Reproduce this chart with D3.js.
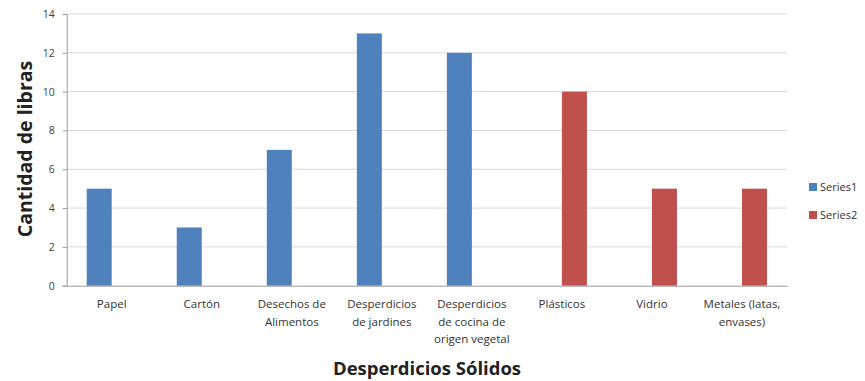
<!DOCTYPE html>
<html><head><meta charset="utf-8">
<script src="https://cdn.jsdelivr.net/npm/d3@7"></script>
<style>body{margin:0;background:#fff}svg{display:block}</style>
</head><body><svg id="c" width="865" height="381"></svg>
<script>
const categories = ["Papel","Cartón","Desechos de Alimentos","Desperdicios de jardines","Desperdicios de cocina de origen vegetal","Plásticos","Vidrio","Metales (latas, envases)"];
const categoryLines = [["Papel"],["Cartón"],["Desechos de","Alimentos"],["Desperdicios","de jardines"],["Desperdicios","de cocina de","origen vegetal"],["Plásticos"],["Vidrio"],["Metales (latas,","envases)"]];
const series1 = [5,3,7,13,12,null,null,null];
const series2 = [null,null,null,null,null,10,5,5];
const seriesNames = ["Series1","Series2"];
const colors = ["#4f81bd","#c0504d"];
const yTicks = [0,2,4,6,8,10,12,14];

const svg = d3.select("#c");
const m = {l:66.7, r:787, t:14, b:285.7};
const x = d3.scaleBand().domain(categories).range([m.l, m.r]).paddingInner(0).paddingOuter(0);
const sub = d3.scaleBand().domain(seriesNames).range([x.bandwidth()/2-25, x.bandwidth()/2+25]);
const y = d3.scaleLinear().domain([0,14]).range([m.b, m.t]);
const font = "'Open Sans', 'Noto Sans', sans-serif";

// gridlines
svg.append("g").selectAll("line").data(yTicks.filter(d=>d>0)).join("line")
  .attr("x1", m.l).attr("x2", m.r).attr("y1", d=>y(d)).attr("y2", d=>y(d))
  .attr("stroke", "#d9d9d9").attr("stroke-width", 1);

// y axis
const ya = svg.append("g").attr("transform", `translate(${m.l},0)`)
  .call(d3.axisLeft(y).tickValues(yTicks).tickSize(4).tickPadding(8));
ya.select(".domain").attr("stroke", "#9a9a9a");
ya.selectAll(".tick line").attr("stroke", "#9a9a9a");
ya.selectAll("text").attr("font-family", font).attr("font-size", 10.5).attr("fill", "#404040");

// bars
const allSeries = [series1, series2];
allSeries.forEach((s, si) => {
  svg.append("g").selectAll("rect").data(s.map((v,i)=>({v, c:categories[i]})).filter(d=>d.v!=null)).join("rect")
    .attr("x", d => x(d.c) + sub(seriesNames[si]))
    .attr("width", sub.bandwidth())
    .attr("y", d => y(d.v))
    .attr("height", d => y(0) - y(d.v))
    .attr("fill", colors[si]);
});

// x axis
const xa = svg.append("g").attr("transform", `translate(0,${m.b})`)
  .call(d3.axisBottom(x).tickSize(0).tickFormat(""));
xa.select(".domain").attr("stroke", "#9a9a9a");
const lbl = svg.append("g").selectAll("text").data(categories).join("text")
  .attr("x", d => x(d) + x.bandwidth()/2)
  .attr("y", 308)
  .attr("text-anchor", "middle")
  .attr("font-family", font).attr("font-size", 11.5).attr("fill", "#333");
lbl.each(function(d,i){
  const t = d3.select(this);
  categoryLines[i].forEach((ln, j) => {
    t.append("tspan").attr("x", x(d) + x.bandwidth()/2).attr("dy", j===0 ? 0 : 17.5).text(ln);
  });
});

// axis titles
svg.append("text").attr("x", 427).attr("y", 375).attr("text-anchor", "middle")
  .attr("font-family", font).attr("font-weight", "bold").attr("font-size", 18.5).attr("fill", "#222")
  .text("Desperdicios Sólidos");
svg.append("text").attr("transform", "translate(32,149) rotate(-90)").attr("text-anchor", "middle")
  .attr("font-family", font).attr("font-weight", "bold").attr("font-size", 19.5).attr("fill", "#222")
  .text("Cantidad de libras");

// legend
const lg = svg.append("g").selectAll("g").data(seriesNames).join("g")
  .attr("transform", (d,i) => `translate(809,${183 + i*28})`);
lg.append("rect").attr("width", 8).attr("height", 8).attr("fill", (d,i)=>colors[i]);
lg.append("text").attr("x", 11).attr("y", 8).attr("font-family", font).attr("font-size", 11).attr("fill", "#333").text(d=>d);
</script></body></html>
